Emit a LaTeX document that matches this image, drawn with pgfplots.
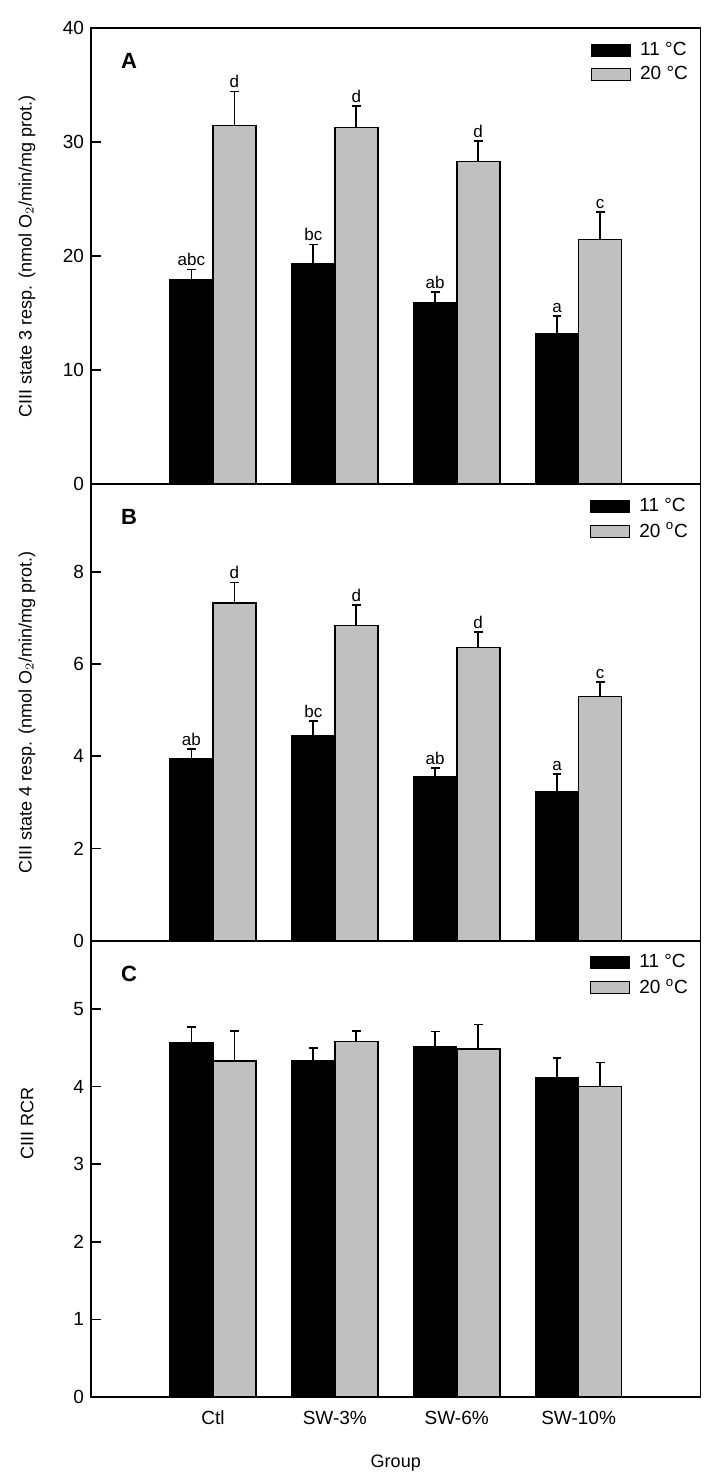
\documentclass[border=0pt]{standalone}
\usepackage{fontspec}
\setmainfont{Liberation Sans}
\usepackage{pgfplots}
\pgfplotsset{compat=1.18}
\definecolor{barg}{RGB}{192,192,192}
\newcommand{\tkf}{\fontsize{9.5}{11}\selectfont}
\newcommand{\lbf}{\fontsize{9}{10.5}\selectfont}
\newcommand{\lgf}{\fontsize{9.5}{11}\selectfont}
\newcommand{\ltf}{\fontsize{8.5}{9.5}\selectfont}
\pgfplotsset{
  panel/.style={
    scale only axis, width=304.5pt, height=228pt,
    xmin=0, xmax=5, xtick={1,2,3,4}, xticklabels={},
    x tick style={draw=none},
    ytick pos=left, tick align=inside, major tick length=5pt,
    y tick style={line width=0.8pt, black},
    axis line style={line width=0.9pt, black},
    /pgf/number format/assume math mode=true,
    tick label style={font=\tkf},
    label style={font=\lbf},
    y label style={at={(axis description cs:-0.105,0.5)}, anchor=center},
    clip=false,
    legend style={draw=none, fill=none, at={(axis description cs:0.986,0.978)}, anchor=north east, font=\lgf, row sep=0pt, inner sep=0pt, outer sep=0pt},
    legend cell align=left,
    legend image code/.code={\draw[##1, draw=black, line width=0.6pt] (0pt,-3pt) rectangle (19.5pt,3pt); \path (22pt,0pt);},
  },
  ebar/.style={error bars/.cd, y dir=plus, y explicit, error bar style={line width=0.9pt, black},
    error mark=-, error mark options={rotate=90, line width=0.9pt, black, mark size=2.2pt}},
  b11/.style={ybar, bar width=0.353, bar shift=0, fill=black, draw=black, line width=0.6pt, ebar},
  b20/.style={ybar, bar width=0.353, bar shift=0, fill=barg, draw=black, line width=0.8pt, ebar},
  lett/.style={only marks, mark=none, forget plot, nodes near coords, point meta=explicit symbolic,
    nodes near coords style={anchor=south, inner sep=1.5pt, font=\ltf, black}},
}
\begin{document}
\begin{tikzpicture}
\path[use as bounding box] (-45.5pt,-41pt) rectangle (309pt,698pt);
% Panel A
\begin{axis}[panel, at={(0pt,456pt)}, anchor=south west,
  ymin=0, ymax=40, ytick={0,10,20,30,40},
  ylabel={CIII state 3 resp. (nmol O$_2$/min/mg prot.)}]
\addplot[b11] coordinates {(0.8235,17.96) +- (0,0.87) (1.8235,19.36) +- (0,1.66) (2.8235,15.89) +- (0,0.99) (3.8235,13.21) +- (0,1.54)};
\addplot[b20] coordinates {(1.1765,31.46) +- (0,2.97) (2.1765,31.28) +- (0,1.90) (3.1765,28.31) +- (0,1.81) (4.1765,21.46) +- (0,2.42)};
\addplot[lett] coordinates {(0.8235,18.83) [abc] (1.1765,34.43) [d] (1.8235,21.02) [bc] (2.1765,33.18) [d] (2.8235,16.88) [ab] (3.1765,30.12) [d] (3.8235,14.75) [a] (4.1765,23.88) [c]};
\legend{11 °C, 20 °C}
\node[font=\bfseries\fontsize{11}{12}\selectfont] at (axis description cs:0.0624,0.928) {A};
\end{axis}
% Panel B
\begin{axis}[panel, at={(0pt,228pt)}, anchor=south west,
  ymin=0, ymax=9.9, ytick={0,2,4,6,8},
  ylabel={CIII state 4 resp. (nmol O$_2$/min/mg prot.)}]
\addplot[b11] coordinates {(0.8235,3.96) +- (0,0.20) (1.8235,4.44) +- (0,0.32) (2.8235,3.55) +- (0,0.20) (3.8235,3.24) +- (0,0.37)};
\addplot[b20] coordinates {(1.1765,7.32) +- (0,0.45) (2.1765,6.84) +- (0,0.45) (3.1765,6.36) +- (0,0.33) (4.1765,5.30) +- (0,0.31)};
\addplot[lett] coordinates {(0.8235,4.16) [ab] (1.1765,7.77) [d] (1.8235,4.76) [bc] (2.1765,7.29) [d] (2.8235,3.75) [ab] (3.1765,6.69) [d] (3.8235,3.61) [a] (4.1765,5.61) [c]};
\legend{11 °C, 20 \textsuperscript{o}C}
\node[font=\bfseries\fontsize{11}{12}\selectfont] at (axis description cs:0.0624,0.928) {B};
\end{axis}
% Panel C
\begin{axis}[panel, at={(0pt,0pt)}, anchor=south west,
  ymin=0, ymax=5.88, ytick={0,1,2,3,4,5},
  xticklabels={Ctl,SW-3\%,SW-6\%,SW-10\%},
  x tick label style={yshift=-3.5pt},
  xlabel={Group},
  x label style={at={(axis description cs:0.5,0)}, anchor=center, yshift=-33pt},
  ylabel={CIII RCR},
  y label style={at={(axis description cs:-0.105,0.6)}, anchor=center}]
\addplot[b11] coordinates {(0.8235,4.57) +- (0,0.20) (1.8235,4.34) +- (0,0.16) (2.8235,4.52) +- (0,0.19) (3.8235,4.11) +- (0,0.26)};
\addplot[b20] coordinates {(1.1765,4.33) +- (0,0.39) (2.1765,4.58) +- (0,0.14) (3.1765,4.48) +- (0,0.32) (4.1765,4.00) +- (0,0.31)};
\legend{11 °C, 20 \textsuperscript{o}C}
\node[font=\bfseries\fontsize{11}{12}\selectfont] at (axis description cs:0.0624,0.928) {C};
\end{axis}
\end{tikzpicture}
\end{document}
